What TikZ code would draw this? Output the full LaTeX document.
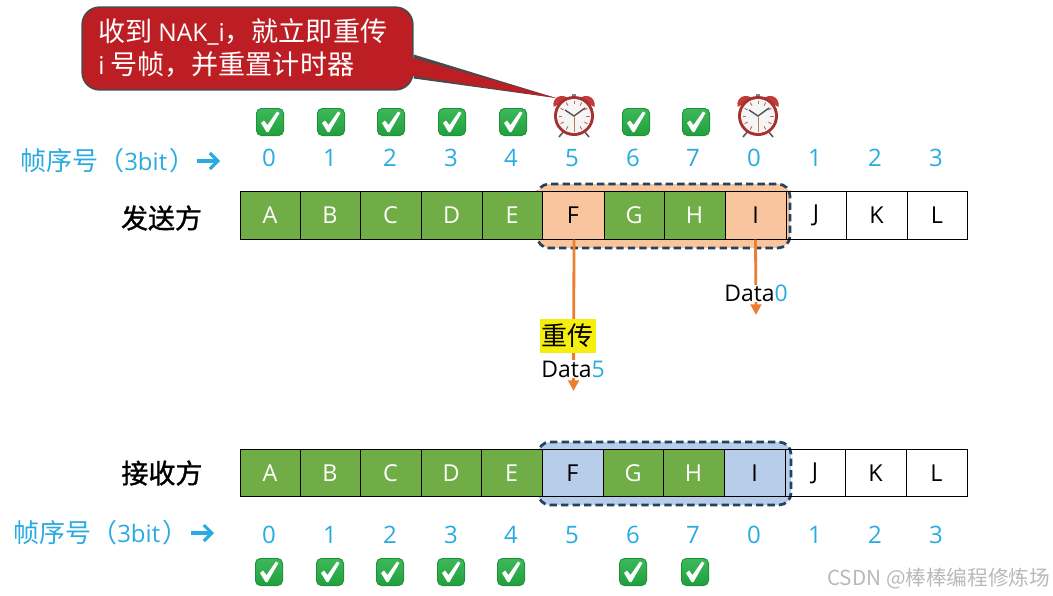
\documentclass[tikz,border=0pt]{standalone}
\usepackage{fontspec}
\setmainfont{Open Sans}
\newfontfamily\cjk{Noto Sans CJK SC}
\newfontfamily\cjkb{Noto Sans CJK SC}[FakeBold=1.2]
\usetikzlibrary{arrows.meta,calc}
\definecolor{cellgreen}{HTML}{70AD47}
\definecolor{winorange}{HTML}{F9C59E}
\definecolor{winblue}{HTML}{B8CDEA}
\definecolor{winedge}{HTML}{24425F}
\definecolor{seqblue}{HTML}{29ABE2}
\definecolor{arroworange}{HTML}{ED7D31}
\definecolor{calloutred}{HTML}{BD1E24}
\definecolor{calloutedge}{HTML}{4A4A4A}
\definecolor{chktop}{HTML}{3CB85A}
\definecolor{chkbot}{HTML}{22A03E}
\definecolor{chkedge}{HTML}{1E8F3A}
\definecolor{hly}{HTML}{F6EE0C}
\definecolor{clockred}{HTML}{C23A3A}
\tikzset{
  x=0.75pt,y=-0.75pt,
  cellbase/.style={draw=black,line width=0.75pt,inner sep=0pt,minimum height=35.4pt,anchor=center,font=\fontsize{17.5}{20}\selectfont},
  greencell/.style={cellbase,fill=cellgreen,text=white},
  opencell/.style={cellbase,fill=none,text=black},
  window/.style={draw=winedge,line width=2pt,dash pattern=on 5.5pt off 3.1pt,rounded corners=9pt},
  seq/.style={text=seqblue,font=\fontsize{18}{20}\selectfont,inner sep=0pt},
  side/.style={text=black,font=\cjkb\fontsize{20.25}{24}\selectfont,inner sep=0pt},
  seqtitle/.style={text=seqblue,font=\cjk\fontsize{19.5}{22}\selectfont,inner sep=0pt,anchor=west},
  seqarrow/.style={draw=seqblue,line width=2.3pt,-{Straight Barb[length=6pt,width=12pt,line width=2.3pt]}},
  sendarrow/.style={draw=arroworange,line width=2.1pt,-{Triangle[length=8pt,width=8pt]}},
  datalabel/.style={fill=white,inner sep=0.3pt,text=black,font=\fontsize{17.2}{19}\selectfont},
}
\newcommand{\chk}[2]{%
  \begin{scope}[shift={(#1,#2)}]
    \fill[chkedge,rounded corners=4pt] (-14,-14) rectangle (14,14);
    \shade[top color=chktop,bottom color=chkbot,rounded corners=3.5pt] (-13,-13) rectangle (13,13);
    \fill[white] (-9,1) -- (-6,-1.5) -- (-2.5,3) -- (7,-10.5) -- (9.5,-9) -- (-1.5,10) -- (-3.5,10) -- cycle;
  \end{scope}}
\newcommand{\clk}[2]{%
  \begin{scope}[shift={(#1,#2)}]
    \draw[gray!70!black,line width=1.2pt] (-10,15) -- (-15,21) (10,15) -- (15,21);
    \fill[clockred] (-20.5,-9) .. controls (-22,-20) and (-11,-23) .. (-5,-17) -- cycle;
    \fill[clockred] (20.5,-9) .. controls (22,-20) and (11,-23) .. (5,-17) -- cycle;
    \fill[gray] (-2,-22.5) rectangle (2,-17);
    \fill[clockred!85!black] (0,0) circle[radius=20];
    \fill[gray!8] (0,0) circle[radius=17];
    \foreach \a in {0,30,...,330}{\draw[red!55!gray!80,line width=0.7pt] (\a:12) -- (\a:15.5);}
    \draw[black!70,line width=1pt] (-9,-6) -- (0,0) -- (11,-8);
    \draw[orange!50!gray,line width=0.6pt] (0,0) -- (0,15);
  \end{scope}}
\begin{document}
\begin{tikzpicture}
\useasboundingbox (0,0) rectangle (1053,596);
% windows, behind the cells
\draw[window,fill=winorange] (537,184) rectangle (790,248);
\draw[window,fill=winblue] (538,442) rectangle (791,505);
% top row cells
\foreach \n/\l/\r/\t/\s in {tA/240/300/A/greencell,tB/300/360/B/greencell,tC/360/421/C/greencell,tD/421/482/D/greencell,tE/482/542/E/greencell,tF/542/604/F/opencell,tG/604/664/G/greencell,tH/664/725/H/greencell,tI/725/786/I/opencell,tJ/786/846/J/opencell,tK/846/907/K/opencell,tL/907/967/L/opencell}{
  \pgfmathsetmacro{\w}{(\r-\l)*0.75}
  \node[\s,minimum width=\w pt] (\n) at ({(\l+\r)/2},215.5) {\t};
}
% bottom row cells
\foreach \n/\l/\r/\t/\s in {bA/240/300/A/greencell,bB/300/360/B/greencell,bC/360/421/C/greencell,bD/421/481/D/greencell,bE/481/542/E/greencell,bF/542/603/F/opencell,bG/603/663/G/greencell,bH/663/724/H/greencell,bI/724/785/I/opencell,bJ/785/845/J/opencell,bK/845/906/K/opencell,bL/906/967/L/opencell}{
  \pgfmathsetmacro{\w}{(\r-\l)*0.75}
  \node[\s,minimum width=\w pt] (\n) at ({(\l+\r)/2},473) {\t};
}
% sequence numbers
\foreach \n/\x/\t in {0/269/0,1/330/1,2/390/2,3/451/3,4/511/4,5/572/5,6/633/6,7/693/7,8/754/0,9/815/1,10/875/2,11/936/3}{
  \node[seq] (ts\n) at (\x,158) {\t};
  \node[seq] (bs\n) at (\x,535) {\t};
}
% titles
\node[seqtitle] (ttitle) at (20,161) {帧序号（{\fontspec{Open Sans}\fontsize{18}{20}\selectfont 3bit}\kern2pt）};
\coordinate (ttip) at (220,161);
\draw[seqarrow] (197,161) -- (ttip);
\node[seqtitle] (btitle) at (13,533) {帧序号（{\fontspec{Open Sans}\fontsize{18}{20}\selectfont 3bit}\kern2pt）};
\coordinate (btip) at (214,533);
\draw[seqarrow] (191,533) -- (btip);
\node[side] (sender) at (161.5,218) {发送方};
\node[side] (receiver) at (162,473) {接收方};
% arrows
\coordinate (fend) at (573.5,391);
\coordinate (iend) at (756,315);
\draw[sendarrow] ($(tF.south)+(1,0)$) -- (fend);
\draw[sendarrow] (tI.south) -- (iend);
\node[fill=hly,inner sep=0pt,minimum width=42pt,minimum height=25.5pt,font=\cjk\fontsize{19.5}{22}\selectfont,text=black] (retx) at (567.5,336) {重传};
\node[datalabel] (d5) at (573,369) {Data{\color{seqblue}5}};
\node[datalabel] (d0) at (756,293.5) {Data{\color{seqblue}0}};
% icons
\foreach \x in {270,331,391,452,513,636,696}{\chk{\x}{122}}
\foreach \x in {269,330,390,451,511,633,695}{\chk{\x}{572}}
\clk{574}{116}
\clk{758}{116}
% callout
\node[draw=calloutedge,line width=1.2pt,fill=calloutred,rounded corners=13pt,minimum width=248pt,minimum height=62pt,inner sep=0pt] (callout) at (247.5,48.5) {};
\coordinate (tail) at (556,98);
\fill[calloutedge] ($(callout.east)+(0,6)$) -- (tail) -- ($(callout.east)+(0,30)$) -- cycle;
\fill[calloutred] ($(callout.east)+(-3,9)$) -- (tail) -- ($(callout.east)+(-3,27)$) -- cycle;
\node[anchor=west,text=white,inner sep=0pt,font=\cjk\fontsize{20.3}{24}\selectfont] (cl1) at (98,32) {收到 {\fontspec{Open Sans}\fontsize{18.4}{20}\selectfont NAK\_i}，就立即重传};
\node[anchor=west,text=white,inner sep=0pt,font=\cjk\fontsize{20.3}{24}\selectfont] (cl2) at (98,65) {{\fontspec{Open Sans}\fontsize{18.4}{20}\selectfont i} 号帧，并重置计时器};
% watermark
\node[anchor=west,text=gray!55,inner sep=0pt,font=\cjk\fontsize{15.5}{18}\selectfont] (wm) at (827,579) {CSDN @棒棒编程修炼场};
\end{tikzpicture}
\end{document}
